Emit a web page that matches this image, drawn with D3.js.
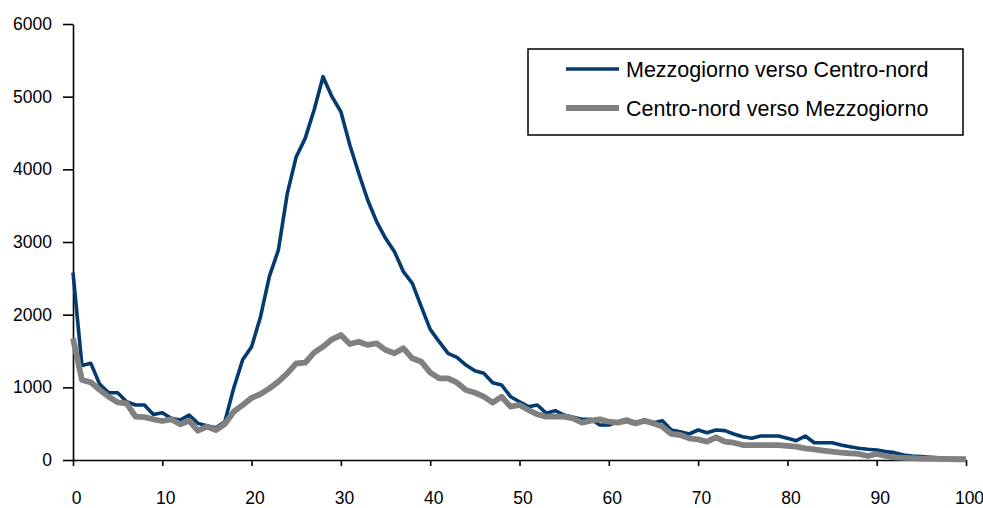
<!DOCTYPE html>
<html>
<head>
<meta charset="UTF-8">
<script src="https://cdnjs.cloudflare.com/ajax/libs/d3/7.8.5/d3.min.js"></script>
<style>
html, body { margin: 0; padding: 0; background: #fff; }
svg { display: block; font-family: Arial, "Liberation Sans", sans-serif; }
</style>
</head>
<body>
<script>
// eta 0..100
var ages = d3.range(0, 101);

var sudNord = [2580,1300,1330,1040,926,926,802,757,757,625,
  651,573,550,619,504,472,445,527,990,1380,
  1560,1972,2530,2890,3670,4174,4426,4816,5275,5000,
  4793,4335,3945,3578,3280,3051,2867,2592,2431,2110,
  1798,1628,1468,1413,1307,1229,1193,1064,1032,871,
  802,734,757,642,679,619,587,560,560,482,
  482,527,560,514,550,514,541,413,390,358,
  413,376,413,404,358,321,298,330,330,330,
  298,266,330,238,238,238,206,183,161,147,
  138,115,101,69,55,46,37,30,25,20,15];

var nordSud = [1674,1101,1069,963,871,794,780,596,590,560,
  537,560,491,540,403,459,413,495,665,757,
  855,908,986,1078,1193,1330,1339,1477,1560,1661,
  1720,1596,1628,1583,1605,1514,1468,1537,1399,1353,
  1202,1124,1124,1064,963,926,871,789,871,734,
  757,688,628,596,596,596,573,514,541,560,
  527,514,541,504,541,504,459,358,344,298,
  284,252,312,252,238,206,206,206,206,206,
  195,183,161,147,128,115,101,92,83,55,
  83,55,37,30,25,20,18,15,12,10,10];

var xTicks = [0,10,20,30,40,50,60,70,80,90,100];
var yTicks = [0,1000,2000,3000,4000,5000,6000];

var series = [
  {name: "Mezzogiorno verso Centro-nord", values: sudNord, color: "#053a6e", width: 3.6},
  {name: "Centro-nord verso Mezzogiorno", values: nordSud, color: "#808080", width: 5.8}
];

var width = 983, height = 508;

var svg = d3.select("body").append("svg")
    .attr("width", width)
    .attr("height", height);

var x = d3.scaleLinear().domain([0, 100]).range([73, 966]);
var y = d3.scaleLinear().domain([0, 6000]).range([460, 24]);

// assi
var yAxis = svg.append("g")
    .attr("transform", "translate(73,0)")
    .call(d3.axisLeft(y).tickValues(yTicks).tickFormat(d3.format("d"))
      .tickSize(10).tickSizeOuter(0).tickPadding(11));
var xAxis = svg.append("g")
    .attr("transform", "translate(0,460)")
    .call(d3.axisBottom(x).tickValues(xTicks).tickFormat(d3.format("d"))
      .tickSize(6).tickSizeOuter(0));

[yAxis, xAxis].forEach(function(g) {
  g.selectAll("path, line").attr("stroke", "#000").attr("stroke-width", 1.6);
  g.selectAll("text").attr("fill", "#000").style("font-size", "17.5px")
    .style("font-family", "Arial, 'Liberation Sans', sans-serif");
});
xAxis.selectAll("text").attr("y", 44).attr("dy", 0).attr("dx", 3);

// linee
var line = d3.line()
    .x(function(d, i) { return x(ages[i]); })
    .y(function(d) { return y(d); });

svg.append("g").selectAll("path")
    .data(series)
    .enter().append("path")
    .attr("d", function(s) { return line(s.values); })
    .attr("fill", "none")
    .attr("stroke", function(s) { return s.color; })
    .attr("stroke-width", function(s) { return s.width; })
    .attr("stroke-linejoin", "round");

// legenda
var leg = svg.append("g");
leg.append("rect")
    .attr("x", 528).attr("y", 49)
    .attr("width", 435).attr("height", 86)
    .attr("fill", "#fff").attr("stroke", "#000").attr("stroke-width", 1.5);

series.forEach(function(s, i) {
  var ly = 69 + i * 39;
  leg.append("line")
      .attr("x1", 566).attr("x2", 619)
      .attr("y1", ly).attr("y2", ly)
      .attr("stroke", s.color).attr("stroke-width", s.width);
  leg.append("text")
      .attr("x", 626).attr("y", ly + 8)
      .attr("fill", "#000")
      .style("font-size", "21.5px")
      .text(s.name);
});
</script>
</body>
</html>
